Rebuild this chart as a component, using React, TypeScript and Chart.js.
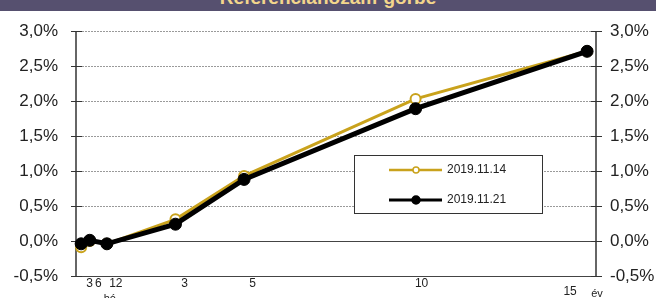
import React, { useEffect, useRef } from 'react';
import { Chart, registerables } from 'chart.js';

Chart.register(...registerables);

// ---- data ----
const maturities = [0.25, 0.5, 1, 3, 5, 10, 15]; // in years
const series1Label = '2019.11.14';
const series1 = [-0.09, 0.0, -0.04, 0.31, 0.93, 2.03, 2.71];
const series2Label = '2019.11.21';
const series2 = [-0.04, 0.01, -0.04, 0.24, 0.88, 1.89, 2.71];
const yTicks = [-0.5, 0, 0.5, 1, 1.5, 2, 2.5, 3];
const xTickValues = [0.25, 0.5, 1, 3, 5, 10, 15];
const xTickLabels = ['3', '6', '12', '3', '5', '10', '15'];
const monthUnit = 'hó';
const yearUnit = 'év';
const title = 'Referenciahozam-görbe';

// label nudges (styling)
const xLabelDx = [8.5, 8.5, 9, 9, 8.5, 6, -17];
const xLabelDy = [0, 0, 0, 0, 0, 0, 8];

const GOLD = '#c9a21c';
const FONT = 'Arial, "Liberation Sans", sans-serif';

const fmtPct = (v: number) => v.toFixed(1).replace('.', ',') + '%';

const decor = {
  id: 'decor',
  beforeDatasetsDraw(chart: any) {
    const { ctx, chartArea, scales } = chart;
    const y = scales.y;
    ctx.save();
    // grid lines
    yTicks.forEach((v) => {
      const py = Math.round(y.getPixelForValue(v)) + 0.5;
      ctx.beginPath();
      if (v === 0 || v === yTicks[0]) {
        ctx.setLineDash([]);
        ctx.strokeStyle = '#444';
        ctx.lineWidth = 1;
      } else {
        ctx.setLineDash([2, 1]);
        ctx.strokeStyle = '#9a9a9a';
        ctx.lineWidth = 1;
      }
      ctx.moveTo(chartArea.left, py);
      ctx.lineTo(chartArea.right, py);
      ctx.stroke();
    });
    ctx.setLineDash([]);
    // axis lines
    ctx.strokeStyle = '#333';
    ctx.lineWidth = 1.5;
    [chartArea.left, chartArea.right].forEach((x) => {
      ctx.beginPath();
      ctx.moveTo(x, chartArea.top);
      ctx.lineTo(x, chartArea.bottom);
      ctx.stroke();
    });
    // crossing tick marks
    ctx.lineWidth = 1;
    yTicks.forEach((v) => {
      const py = Math.round(y.getPixelForValue(v)) + 0.5;
      [chartArea.left, chartArea.right].forEach((x) => {
        ctx.beginPath();
        ctx.moveTo(x - 5, py);
        ctx.lineTo(x + 6, py);
        ctx.stroke();
      });
    });
    ctx.restore();
  },
  afterDraw(chart: any) {
    const { ctx, chartArea, scales } = chart;
    const x = scales.x;
    ctx.save();
    // x labels
    ctx.fillStyle = '#222';
    ctx.font = `12px ${FONT}`;
    ctx.textAlign = 'center';
    ctx.textBaseline = 'middle';
    xTickValues.forEach((v, i) => {
      const px = x.getPixelForValue(v) + xLabelDx[i];
      ctx.fillText(xTickLabels[i], px, chartArea.bottom + 8 + xLabelDy[i]);
    });
    ctx.font = `11px ${FONT}`;
    ctx.textBaseline = 'alphabetic';
    ctx.fillText(monthUnit, x.getPixelForValue(1) + 3, chartArea.bottom + 26);
    ctx.fillText(yearUnit, chartArea.right + 1, chartArea.bottom + 21);

    // legend
    const bx = 354, by = 155, bw = 188, bh = 58;
    ctx.fillStyle = '#fff';
    ctx.fillRect(bx, by, bw, bh);
    ctx.strokeStyle = '#333';
    ctx.lineWidth = 1;
    ctx.strokeRect(bx + 0.5, by + 0.5, bw, bh);
    const entries = [
      { label: chart.data.datasets[0].label, color: GOLD, lw: 2.5, r: 3, fill: '#fff', yy: by + 15 },
      { label: chart.data.datasets[1].label, color: '#000', lw: 3, r: 4, fill: '#000', yy: by + 45 },
    ];
    entries.forEach((e) => {
      ctx.strokeStyle = e.color;
      ctx.lineWidth = e.lw;
      ctx.beginPath();
      ctx.moveTo(bx + 35, e.yy);
      ctx.lineTo(bx + 88, e.yy);
      ctx.stroke();
      ctx.beginPath();
      ctx.arc(bx + 62, e.yy, e.r, 0, Math.PI * 2);
      ctx.fillStyle = e.fill;
      ctx.fill();
      ctx.lineWidth = 1.5;
      ctx.stroke();
      ctx.fillStyle = '#222';
      ctx.font = `12px ${FONT}`;
      ctx.textAlign = 'left';
      ctx.textBaseline = 'middle';
      ctx.fillText(e.label, bx + 93, e.yy);
    });
    ctx.restore();
  },
};

export default function App() {
  const ref = useRef<HTMLCanvasElement>(null);
  useEffect(() => {
    document.body.style.margin = '0';
    const yAxis = (pos: 'left' | 'right', width: number, pad: number) => ({
      type: 'linear' as const,
      position: pos,
      min: -0.5,
      max: 3,
      afterFit: (s: any) => {
        s.width = width;
        s.paddingTop = 0;
        s.paddingBottom = 0;
      },
      afterBuildTicks: (s: any) => {
        s.ticks = yTicks.map((v) => ({ value: v }));
      },
      grid: { display: false, drawTicks: false },
      border: { display: false },
      ticks: {
        callback: (v: any) => fmtPct(Number(v)),
        font: { family: FONT, size: 17 },
        color: '#222',
        padding: pad,
      },
    });
    const chart = new Chart(ref.current!, {
      type: 'line',
      data: {
        datasets: [
          {
            label: series1Label,
            data: maturities.map((m, i) => ({ x: m, y: series1[i] })),
            borderColor: GOLD,
            borderWidth: 3,
            pointRadius: 5,
            pointBorderWidth: 2,
            pointBorderColor: GOLD,
            pointBackgroundColor: '#fff',
            tension: 0,
            clip: false as any,
            order: 2,
          },
          {
            label: series2Label,
            data: maturities.map((m, i) => ({ x: m, y: series2[i] })),
            borderColor: '#000',
            borderWidth: 5,
            pointRadius: 6,
            pointBorderWidth: 1,
            pointBorderColor: '#000',
            pointBackgroundColor: '#000',
            tension: 0,
            clip: false as any,
            order: 1,
          },
        ],
      },
      options: {
        animation: false,
        responsive: false,
        devicePixelRatio: 1,
        layout: { padding: { top: 31, bottom: 22, left: 0, right: 0 } },
        plugins: { legend: { display: false }, tooltip: { enabled: false } },
        scales: {
          x: { type: 'linear', min: 0.1, max: 15.26, display: false },
          y: yAxis('left', 76, 18),
          y2: yAxis('right', 60, 14),
        },
      },
      plugins: [decor],
    });
    return () => chart.destroy();
  }, []);
  return (
    <div
      style={{
        position: 'relative',
        width: 656,
        height: 298,
        background: '#fff',
        overflow: 'hidden',
        fontFamily: FONT,
      }}
    >
      <canvas ref={ref} width={656} height={298} style={{ display: 'block' }} />
      <div
        style={{
          position: 'absolute',
          left: 0,
          top: 0,
          width: 656,
          height: 11,
          background: '#56506f',
          overflow: 'hidden',
        }}
      >
        <div
          style={{
            position: 'absolute',
            left: 0,
            right: 0,
            top: -12,
            textAlign: 'center',
            color: '#f3d68c',
            fontWeight: 'bold',
            fontSize: 19,
            lineHeight: '20px',
            whiteSpace: 'nowrap',
          }}
        >
          {title}
        </div>
      </div>
    </div>
  );
}
